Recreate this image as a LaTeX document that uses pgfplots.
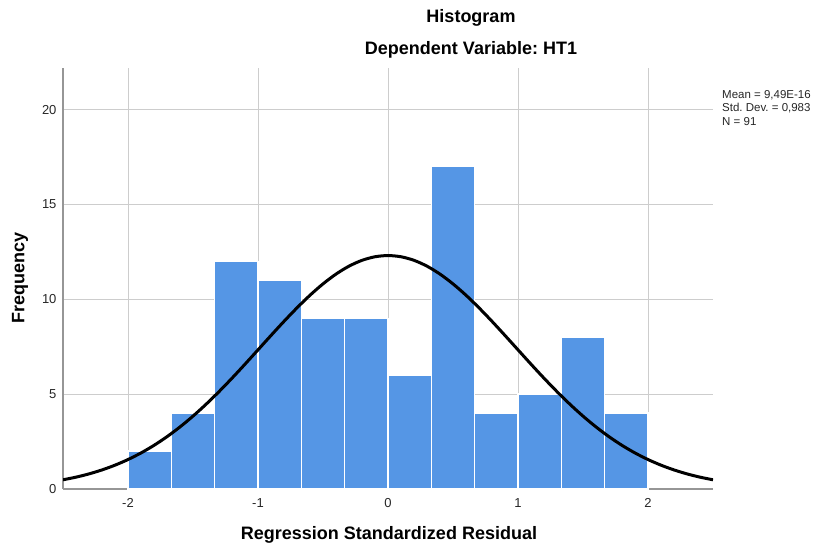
\documentclass[border=0pt]{standalone}
\usepackage{pgfplots}
\pgfplotsset{compat=1.18}
\usepackage{fontspec}
\setmainfont{Liberation Sans}
\definecolor{barblue}{RGB}{85,150,229}
\definecolor{gridgray}{RGB}{205,205,205}
\definecolor{axgray}{RGB}{150,150,150}
\frenchspacing
\begin{document}
\begin{tikzpicture}[x=1pt,y=1pt]
\begin{axis}[
  at={(0pt,0pt)}, anchor=south west,
  scale only axis, width=650pt, height=421pt,
  xmin=-2.5, xmax=2.5, ymin=0, ymax=22.2,
  xtick={-2,-1,0,1,2}, ytick={0,5,10,15,20},
  grid=major, major grid style={gridgray, line width=1pt},
  axis x line*=bottom, axis y line*=left,
  axis line style={axgray, line width=1.2pt, -},
  major tick length=0pt,
  tick label style={font=\fontsize{13}{15}\selectfont, text=black!85},
  xticklabel style={yshift=-6pt},
  yticklabel style={xshift=-3pt},
  /pgf/number format/assume math mode=true,
  clip=true,
]
\addplot[ybar interval, fill=barblue, draw=white, line width=1.5pt] coordinates {
  (-2.0000,2) (-1.6667,4) (-1.3333,12) (-1.0000,11) (-0.6667,9) (-0.3333,9)
  (0.0000,6) (0.3333,17) (0.6667,4) (1.0000,5) (1.3333,8) (1.6667,4) (2.0000,4)
};
\addplot[black, line width=3pt, smooth] coordinates {
  (-2.5,0.485) (-2.4,0.625) (-2.3,0.797) (-2.2,1.006) (-2.1,1.257) (-2.0,1.554)
  (-1.9,1.901) (-1.8,2.302) (-1.7,2.759) (-1.6,3.273) (-1.5,3.843) (-1.4,4.465)
  (-1.3,5.134) (-1.2,5.843) (-1.1,6.582) (-1.0,7.338) (-0.9,8.096) (-0.8,8.840)
  (-0.7,9.553) (-0.6,10.218) (-0.5,10.816) (-0.4,11.332) (-0.3,11.750) (-0.2,12.058)
  (-0.1,12.246) (0.0,12.310) (0.1,12.246) (0.2,12.058) (0.3,11.750) (0.4,11.332)
  (0.5,10.816) (0.6,10.218) (0.7,9.553) (0.8,8.840) (0.9,8.096) (1.0,7.338)
  (1.1,6.582) (1.2,5.843) (1.3,5.134) (1.4,4.465) (1.5,3.843) (1.6,3.273)
  (1.7,2.759) (1.8,2.302) (1.9,1.901) (2.0,1.554) (2.1,1.257) (2.2,1.006)
  (2.3,0.797) (2.4,0.625) (2.5,0.485)
};
\end{axis}
\path[use as bounding box] (-63,-57) rectangle (755,489);
\node[font=\bfseries\fontsize{18}{20}\selectfont] at (408,471) {Histogram};
\node[font=\bfseries\fontsize{18}{20}\selectfont] at (408,439) {Dependent Variable: HT1};
\node[font=\bfseries\fontsize{18}{20}\selectfont] at (326,-46) {Regression Standardized Residual};
\node[font=\bfseries\fontsize{18}{20}\selectfont, rotate=90] at (-43,211) {Frequency};
\node[font=\fontsize{11.5}{13.5}\selectfont, anchor=north west, align=left, inner sep=0pt, text=black!85] at (659,399) {Mean = 9,49E-16\\Std. Dev. = 0,983\\N = 91};
\end{tikzpicture}
\end{document}
